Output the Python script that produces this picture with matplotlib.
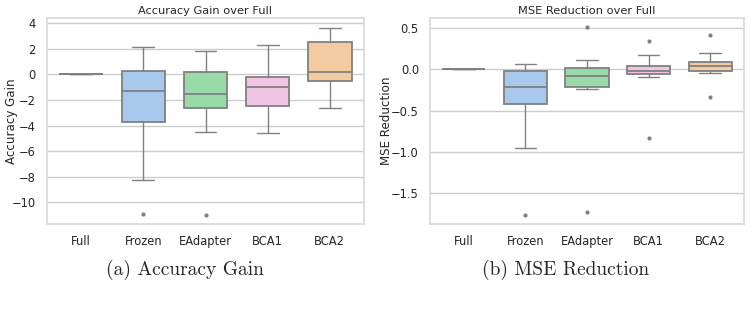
import matplotlib
matplotlib.use("Agg")
import matplotlib.pyplot as plt
import seaborn as sns

# --- data (box statistics) ---
methods = ["Full", "Frozen", "EAdapter", "BCA1", "BCA2"]

acc_med = [0.0, -1.32, -1.53, -0.98, 0.19]
acc_q1 = [0.0, -3.69, -2.65, -2.49, -0.54]
acc_q3 = [0.0, 0.30, 0.17, -0.20, 2.56]
acc_lo = [0.0, -8.25, -4.52, -4.60, -2.65]
acc_hi = [0.0, 2.17, 1.86, 2.30, 3.63]
acc_fliers = [[], [-10.93], [-10.99], [], []]

mse_med = [0.0, -0.214, -0.084, -0.023, 0.038]
mse_q1 = [0.0, -0.425, -0.22, -0.05, -0.02]
mse_q3 = [0.0, -0.016, 0.02, 0.04, 0.086]
mse_lo = [0.0, -0.96, -0.24, -0.09, -0.04]
mse_hi = [0.0, 0.07, 0.11, 0.18, 0.20]
mse_fliers = [[], [-1.77], [0.51, -1.74], [0.34, -0.83], [0.415, -0.33]]

sns.set_theme(style="whitegrid")
box_colors = ["#a9c8ed", "#a9c8ed", "#98dba8", "#efc5e3", "#f4cba1"]
line_c = "#808080"


def stats(med, q1, q3, lo, hi, fl):
    return [dict(med=m, q1=a, q3=b, whislo=l, whishi=h, fliers=f, label=n)
            for m, a, b, l, h, f, n in zip(med, q1, q3, lo, hi, fl, methods)]


def draw(ax, st, title, ylabel, label_x):
    bp = ax.bxp(st, positions=range(len(st)), widths=0.7, patch_artist=True,
                boxprops=dict(edgecolor=line_c, linewidth=1.3),
                medianprops=dict(color=line_c, linewidth=1.3),
                whiskerprops=dict(color=line_c, linewidth=1.0),
                capprops=dict(color=line_c, linewidth=1.0),
                flierprops=dict(marker="o", markersize=2, markerfacecolor=line_c,
                                markeredgecolor=line_c))
    for patch, c in zip(bp["boxes"], box_colors):
        patch.set_facecolor(c)
    ax.set_xticks(range(len(methods)))
    ax.set_xticklabels(methods)
    ax.set_xlim(-0.55, 4.55)
    ax.grid(axis="x", visible=False)
    ax.set_title(title, fontsize=8.2, pad=3)
    ax.set_ylabel(ylabel, fontsize=8.6)
    ax.yaxis.set_label_coords(label_x, 0.5)
    ax.tick_params(labelsize=8.3, pad=2)
    for s in ax.spines.values():
        s.set_color("#d9d9d9")


fig = plt.figure(figsize=(7.52, 3.14), dpi=100)
ax1 = fig.add_axes([47 / 752, 1 - 224 / 314, 317 / 752, 206 / 314])
ax2 = fig.add_axes([430 / 752, 1 - 224 / 314, 314 / 752, 206 / 314])

draw(ax1, stats(acc_med, acc_q1, acc_q3, acc_lo, acc_hi, acc_fliers),
     "Accuracy Gain over Full", "Accuracy Gain", -0.093)
ax1.set_ylim(-11.7, 4.41)
ax1.set_yticks([-10, -8, -6, -4, -2, 0, 2, 4])

draw(ax2, stats(mse_med, mse_q1, mse_q3, mse_lo, mse_hi, mse_fliers),
     "MSE Reduction over Full", "MSE Reduction", -0.118)
ax2.set_ylim(-1.88, 0.625)
ax2.set_yticks([-1.5, -1.0, -0.5, 0.0, 0.5])

fig.text(185 / 752, 1 - 270 / 314, "(a) Accuracy Gain", family="cmr10",
         fontsize=14, ha="center", va="center")
fig.text(566 / 752, 1 - 270 / 314, "(b) MSE Reduction", family="cmr10",
         fontsize=14, ha="center", va="center")

fig.savefig("out.png", dpi=100)
